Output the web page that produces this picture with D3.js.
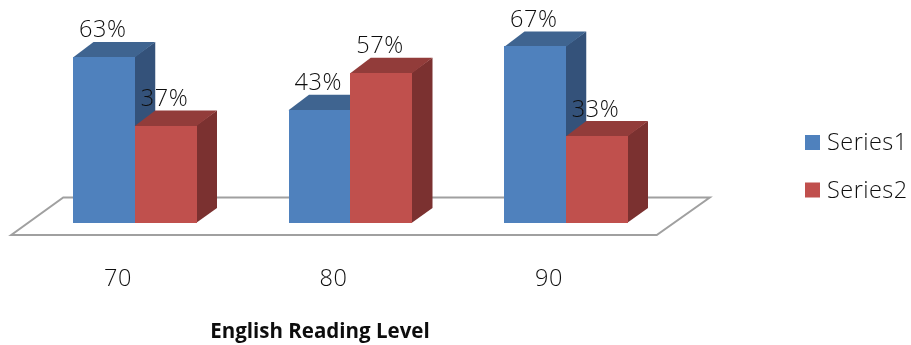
<!DOCTYPE html>
<html><head><meta charset="utf-8">
<script src="https://cdnjs.cloudflare.com/ajax/libs/d3/7.8.5/d3.min.js"></script>
<style>html,body{margin:0;padding:0;background:#fff}svg{display:block}text{font-family:"Open Sans",sans-serif;fill:#111}</style>
</head><body><div id="c"></div>
<script>
const categories=["70","80","90"];
const seriesNames=["Series1","Series2"];
const series1=[63,43,67];
const series2=[37,57,33];
const axisTitle="English Reading Level";
const colors={Series1:{front:"#4f81bd",top:"#3f6490",side:"#34527a"},Series2:{front:"#c0504d",top:"#923c3a",side:"#7b3130"}};

const W=911,H=345,dx=20.5,dy=-15;
const svg=d3.select("#c").append("svg").attr("width",W).attr("height",H);
const defs=svg.append("defs");
defs.append("filter").attr("id","soft").append("feGaussianBlur").attr("stdDeviation",0.45);
const x=d3.scaleBand().domain(categories).range([27.25,673.75]).paddingInner(0).paddingOuter(0);
const gx=c=>x(c)+x.bandwidth()/2;
const y=d3.scaleLinear().domain([0,100]).range([223,-40.5]);
const inner=d3.scaleBand().domain(seriesNames).range([-62,61.5]);

// floor
const fl=svg.append("g");
fl.append("path")
  .attr("d",`M${x.range()[0]-16},235 L${x.range()[1]-17},235 L${x.range()[1]+36},197.5 L${x.range()[0]+36},197.5 Z`)
  .attr("fill","#fff").attr("stroke","#a0a0a0").attr("stroke-width",2).attr("filter","url(#soft)");

const rows=categories.flatMap((c,i)=>[
  {c,s:"Series1",v:series1[i]},{c,s:"Series2",v:series2[i]}]);
const g=svg.append("g");
const bars=g.selectAll("g").data(rows).join("g");
const L=d=>gx(d.c)+inner(d.s), R=d=>L(d)+inner.bandwidth();
bars.append("path").attr("fill",d=>colors[d.s].side)
  .attr("d",d=>`M${R(d)-0.5},${y(d.v)} L${R(d)+dx},${y(d.v)+dy} L${R(d)+dx},${y(0)+dy} L${R(d)-0.5},${y(0)} Z`);
bars.append("path").attr("fill",d=>colors[d.s].top)
  .attr("d",d=>`M${L(d)},${y(d.v)+0.5} L${L(d)+dx},${y(d.v)+dy} L${R(d)+dx},${y(d.v)+dy} L${R(d)},${y(d.v)+0.5} Z`);
bars.append("rect").attr("fill",d=>colors[d.s].front).attr("shape-rendering","crispEdges")
  .attr("x",L).attr("width",inner.bandwidth()).attr("y",d=>y(d.v)).attr("height",d=>y(0)-y(d.v));

const t=svg.append("g").attr("filter","url(#soft)");
t.selectAll("text.v").data(rows).join("text").attr("class","v")
  .attr("x",d=>(L(d)+R(d))/2-1).attr("y",d=>y(d.v)-19.5)
  .attr("text-anchor","middle").attr("font-size",23.5).attr("font-weight",300).attr("letter-spacing",0.6).text(d=>d.v+"%");
t.selectAll("text.c").data(categories).join("text").attr("class","c")
  .attr("x",c=>gx(c)-17).attr("y",286).attr("text-anchor","middle").attr("font-size",23.5).attr("font-weight",300).attr("letter-spacing",0.6).text(c=>c);
t.append("text").attr("x",320).attr("y",338).attr("text-anchor","middle")
  .attr("font-size",20.5).attr("font-weight",700).text(axisTitle);

const leg=t.selectAll("g.l").data(seriesNames).join("g").attr("class","l")
  .attr("transform",(d,i)=>`translate(805,${135+i*47.5})`);
leg.append("rect").attr("width",15).attr("height",15).attr("fill",d=>colors[d].front);
leg.append("text").attr("x",22).attr("y",15).attr("font-size",23.5).attr("font-weight",300).attr("letter-spacing",0.45).text(d=>d);
</script></body></html>
